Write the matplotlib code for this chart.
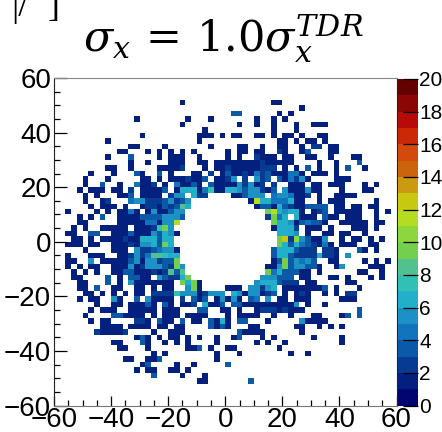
import numpy as np
import matplotlib
matplotlib.use('Agg')
import matplotlib.pyplot as plt
from matplotlib.colors import ListedColormap, BoundaryNorm

W, H = 442, 432

# counts per bin, one dict per row of the histogram (row 0 is the top, key is the x bin from the left)
r04 = {22: 1, 38: 1, 39: 1}
r05 = {43: 1}
r06 = {31: 3, 32: 3, 39: 1, 41: 1}
r07 = {14: 1, 23: 1, 27: 1, 35: 1, 38: 1, 40: 1}
r08 = {22: 1, 32: 1, 35: 1, 38: 1, 42: 1, 45: 1, 46: 1, 47: 1}
r09 = {26: 1, 38: 1, 42: 1}
r10 = {15: 1, 25: 1, 26: 1, 27: 1, 29: 1, 31: 1, 32: 1, 35: 1, 36: 1, 38: 1, 40: 1, 41: 1, 43: 1, 46: 1, 47: 1}
r11 = {9: 1, 25: 1, 39: 1, 40: 1, 42: 1, 44: 1, 45: 1, 47: 1}
r12 = {13: 1, 14: 1, 19: 1, 27: 1, 32: 1, 33: 1, 36: 1, 39: 1, 40: 1, 43: 1, 45: 2, 46: 2, 48: 1, 49: 1}
r13 = {11: 1, 12: 1, 16: 1, 18: 1, 20: 1, 22: 1, 24: 1, 30: 1, 32: 1, 33: 1, 35: 1, 36: 1, 39: 2, 40: 1, 43: 1, 44: 3, 48: 1, 49: 1}
r14 = {9: 1, 13: 3, 18: 1, 20: 1, 21: 1, 22: 1, 25: 1, 30: 1, 32: 1, 35: 2, 36: 1, 37: 1, 38: 1, 40: 1, 41: 1, 44: 1, 45: 1, 48: 1, 52: 1, 53: 1}
r15 = {13: 1, 16: 1, 20: 1, 21: 1, 22: 1, 25: 1, 26: 1, 28: 1, 29: 1, 30: 1, 31: 1, 32: 1, 33: 1, 34: 1, 35: 1, 36: 2, 37: 1, 38: 1, 39: 1, 40: 1, 41: 1, 46: 1, 49: 1, 53: 3}
r16 = {9: 1, 10: 1, 13: 1, 18: 1, 19: 1, 20: 1, 21: 1, 22: 2, 26: 1, 28: 1, 29: 1, 30: 2, 31: 1, 32: 1, 33: 1, 34: 1, 35: 1, 36: 2, 37: 2, 38: 2, 40: 1, 42: 1, 44: 3, 46: 1, 49: 1, 51: 3, 54: 1}
r17 = {6: 1, 10: 1, 14: 3, 15: 1, 18: 3, 20: 1, 24: 1, 25: 1, 27: 2, 29: 1, 30: 3, 31: 1, 32: 1, 33: 2, 34: 1, 35: 4, 36: 2, 37: 3, 38: 1, 39: 1, 40: 1, 41: 4, 42: 4, 43: 1, 45: 1, 46: 1, 47: 1, 49: 1}
r18 = {5: 1, 9: 1, 15: 1, 16: 1, 18: 1, 20: 1, 21: 1, 22: 1, 23: 2, 24: 1, 25: 1, 26: 3, 28: 1, 29: 1, 30: 2, 31: 5, 33: 2, 35: 5, 36: 2, 37: 3, 39: 3, 40: 1, 41: 4, 42: 2, 43: 5, 44: 1, 49: 1, 50: 1, 51: 1}
r19 = {5: 1, 8: 3, 11: 1, 14: 4, 15: 1, 16: 1, 17: 2, 19: 1, 21: 4, 22: 1, 23: 1, 24: 3, 25: 1, 27: 3, 28: 1, 29: 1, 30: 1, 31: 1, 32: 5, 33: 2, 34: 5, 35: 1, 36: 2, 38: 2, 41: 1, 42: 1, 43: 1, 45: 1, 46: 1, 48: 1, 49: 1, 50: 1, 54: 1, 56: 1}
r20 = {4: 1, 6: 1, 7: 1, 8: 1, 10: 1, 11: 1, 13: 2, 15: 1, 16: 1, 17: 1, 18: 1, 19: 3, 21: 1, 22: 6, 23: 6, 24: 6, 25: 1, 26: 4, 27: 7, 28: 1, 29: 1, 30: 6, 31: 6, 32: 5, 33: 3, 34: 5, 35: 5, 36: 2, 37: 1, 38: 3, 40: 5, 41: 1, 42: 1, 43: 1, 44: 5, 45: 1, 46: 1, 50: 1, 54: 1, 55: 1}
r21 = {5: 1, 7: 1, 11: 1, 12: 1, 13: 3, 15: 1, 16: 1, 17: 1, 18: 1, 20: 2, 21: 5, 22: 5, 24: 6, 25: 2, 26: 2, 31: 1, 32: 1, 33: 3, 34: 5, 35: 5, 36: 5, 38: 4, 39: 5, 40: 5, 41: 4, 42: 1, 43: 1, 44: 2, 46: 1, 49: 1, 50: 1, 51: 1, 52: 1}
r22 = {5: 1, 8: 1, 9: 2, 13: 4, 14: 5, 15: 5, 16: 2, 17: 2, 18: 2, 19: 3, 20: 5, 21: 2, 22: 3, 23: 5, 34: 1, 35: 11, 36: 6, 37: 6, 38: 4, 39: 4, 40: 4, 41: 6, 42: 1, 43: 1, 46: 1, 48: 1, 49: 1, 50: 1, 56: 1}
r23 = {6: 1, 8: 1, 9: 1, 10: 1, 12: 1, 15: 1, 16: 2, 17: 2, 18: 1, 19: 3, 20: 2, 21: 3, 22: 8, 23: 6, 35: 1, 36: 3, 37: 3, 38: 1, 39: 6, 40: 3, 41: 2, 42: 1, 43: 1, 44: 3, 45: 3, 46: 3, 47: 3, 49: 1, 50: 1, 52: 1, 53: 1, 55: 1, 56: 1}
r24 = {2: 1, 7: 1, 9: 1, 11: 1, 12: 1, 13: 4, 14: 1, 16: 1, 17: 5, 18: 1, 19: 1, 20: 3, 21: 5, 22: 5, 37: 9, 38: 11, 39: 6, 40: 5, 41: 6, 42: 6, 43: 1, 45: 1, 46: 2, 47: 3, 49: 1, 50: 1, 51: 1, 52: 1, 53: 1, 56: 1, 58: 1}
r25 = {4: 1, 6: 1, 8: 3, 11: 1, 12: 1, 13: 1, 14: 1, 15: 3, 16: 3, 17: 3, 18: 3, 19: 5, 20: 5, 21: 5, 22: 3, 37: 2, 38: 9, 39: 4, 40: 6, 42: 6, 43: 1, 44: 1, 45: 1, 47: 3, 48: 1, 49: 1, 51: 1, 52: 1, 53: 1, 56: 1}
r26 = {4: 1, 5: 1, 11: 1, 12: 1, 13: 1, 14: 1, 15: 1, 16: 4, 17: 4, 18: 1, 19: 5, 20: 5, 21: 11, 38: 9, 39: 6, 40: 6, 41: 5, 42: 1, 43: 3, 44: 4, 45: 3, 46: 3, 47: 1, 50: 1, 51: 1, 52: 1, 53: 1, 54: 1, 56: 1, 57: 1}
r27 = {3: 1, 5: 1, 8: 1, 9: 1, 10: 1, 11: 1, 12: 1, 14: 1, 15: 1, 16: 1, 17: 2, 18: 7, 19: 9, 20: 5, 38: 1, 39: 6, 40: 6, 41: 6, 42: 2, 44: 1, 45: 1, 46: 1, 48: 1, 52: 1, 53: 1, 54: 1, 56: 1}
r28 = {2: 1, 3: 1, 6: 3, 7: 3, 10: 1, 11: 1, 12: 1, 13: 3, 14: 1, 15: 1, 16: 1, 17: 5, 18: 3, 19: 6, 20: 5, 21: 1, 39: 6, 40: 6, 41: 6, 42: 5, 44: 1, 47: 1, 48: 1, 50: 1, 51: 1, 54: 1}
r29 = {3: 1, 4: 1, 6: 1, 8: 1, 9: 1, 10: 1, 11: 1, 12: 2, 13: 1, 14: 1, 15: 6, 16: 6, 17: 6, 18: 3, 19: 6, 20: 6, 39: 9, 40: 12, 41: 2, 42: 10, 43: 5, 44: 3, 45: 1, 46: 1, 47: 5, 50: 1, 52: 1, 53: 1, 55: 1, 57: 1}
r30 = {2: 1, 3: 1, 4: 1, 6: 1, 7: 1, 10: 1, 11: 1, 12: 1, 13: 2, 14: 1, 15: 5, 16: 5, 17: 6, 18: 3, 19: 9, 20: 6, 39: 9, 40: 6, 41: 3, 42: 6, 43: 4, 44: 3, 45: 2, 46: 1, 47: 4, 48: 1, 50: 1, 51: 1, 52: 1, 55: 1, 56: 1}
r31 = {5: 1, 10: 1, 11: 1, 12: 1, 14: 5, 15: 2, 16: 2, 17: 3, 18: 4, 19: 5, 20: 5, 21: 1, 38: 3, 39: 6, 40: 6, 41: 6, 42: 3, 43: 2, 44: 2, 45: 2, 47: 2, 48: 2, 49: 1, 53: 3, 54: 1, 56: 1}
r32 = {2: 1, 6: 1, 7: 1, 8: 1, 11: 1, 12: 1, 13: 2, 14: 5, 15: 2, 16: 4, 17: 8, 18: 8, 19: 7, 20: 6, 21: 6, 38: 3, 39: 6, 40: 6, 41: 3, 42: 2, 43: 2, 44: 2, 45: 2, 46: 6, 47: 2, 48: 2, 49: 1, 51: 5}
r33 = {2: 1, 3: 1, 6: 5, 8: 1, 9: 1, 10: 1, 11: 1, 12: 1, 13: 3, 14: 5, 15: 1, 16: 5, 17: 5, 18: 2, 19: 3, 20: 3, 21: 9, 38: 1, 39: 3, 40: 9, 41: 3, 42: 5, 43: 4, 44: 5, 45: 3, 48: 1, 49: 1, 54: 1, 56: 1, 58: 1}
r34 = {2: 1, 4: 1, 6: 1, 7: 1, 10: 1, 11: 1, 12: 1, 13: 5, 14: 1, 15: 2, 16: 5, 17: 5, 18: 5, 19: 3, 20: 2, 21: 9, 22: 5, 37: 1, 38: 1, 39: 5, 40: 9, 41: 3, 42: 5, 43: 5, 44: 3, 45: 3, 46: 1, 49: 1, 50: 5, 55: 1, 56: 1, 57: 1}
r35 = {3: 1, 5: 1, 7: 1, 10: 1, 11: 1, 12: 3, 13: 3, 14: 1, 15: 1, 16: 1, 17: 2, 18: 1, 19: 2, 20: 8, 21: 3, 22: 8, 37: 9, 38: 4, 39: 6, 40: 3, 41: 3, 42: 3, 43: 1, 44: 1, 46: 1, 53: 1, 54: 1, 57: 1}
r36 = {3: 1, 4: 1, 9: 3, 11: 1, 13: 3, 14: 3, 15: 1, 16: 1, 18: 5, 19: 3, 20: 2, 21: 2, 22: 6, 23: 9, 36: 5, 37: 5, 38: 5, 39: 3, 40: 3, 41: 3, 43: 1, 44: 1, 48: 1, 49: 1, 51: 1, 55: 1, 57: 1}
r37 = {4: 1, 5: 1, 9: 3, 11: 1, 13: 5, 14: 1, 15: 1, 16: 1, 17: 1, 18: 1, 19: 1, 20: 1, 22: 9, 23: 6, 24: 9, 25: 1, 35: 5, 36: 6, 37: 6, 38: 6, 39: 3, 40: 2, 41: 2, 42: 2, 44: 1, 45: 1, 51: 1, 52: 1}
r38 = {4: 1, 5: 1, 7: 3, 10: 1, 11: 1, 14: 1, 15: 1, 17: 1, 19: 1, 20: 1, 23: 5, 24: 9, 25: 1, 30: 1, 31: 1, 32: 1, 34: 5, 35: 5, 36: 2, 37: 5, 38: 6, 40: 1, 41: 1, 42: 1, 43: 1, 44: 1, 45: 1, 46: 1, 47: 3, 49: 1, 53: 1}
r39 = {5: 1, 6: 1, 8: 1, 10: 1, 12: 1, 14: 1, 15: 1, 17: 2, 18: 2, 19: 2, 20: 2, 21: 7, 22: 5, 23: 5, 24: 5, 25: 1, 26: 2, 27: 5, 28: 5, 29: 5, 31: 6, 32: 5, 33: 1, 34: 5, 35: 5, 36: 1, 37: 2, 38: 3, 40: 1, 42: 1, 43: 2, 44: 1, 47: 1, 49: 1, 51: 2, 52: 2}
r40 = {4: 1, 6: 1, 7: 1, 10: 5, 11: 1, 14: 3, 16: 5, 17: 1, 18: 1, 19: 1, 20: 1, 22: 2, 24: 3, 25: 1, 26: 3, 28: 1, 29: 5, 30: 1, 31: 5, 32: 1, 34: 3, 35: 4, 37: 5, 39: 1, 40: 1, 42: 1, 43: 1, 44: 1, 50: 1, 51: 1, 52: 1}
r41 = {7: 1, 10: 1, 11: 1, 13: 1, 14: 1, 15: 1, 16: 3, 17: 1, 19: 3, 20: 1, 22: 1, 23: 1, 24: 2, 26: 6, 27: 1, 28: 1, 29: 3, 31: 3, 32: 3, 33: 1, 34: 1, 35: 1, 36: 1, 37: 1, 38: 1, 39: 1, 40: 1, 41: 1, 42: 5, 44: 1, 47: 1}
r42 = {6: 1, 8: 1, 9: 1, 10: 1, 13: 1, 14: 1, 15: 1, 16: 1, 17: 1, 19: 1, 20: 1, 21: 1, 25: 3, 26: 3, 29: 1, 30: 1, 32: 1, 35: 1, 36: 2, 37: 2, 38: 2, 39: 1, 40: 2, 41: 1, 42: 1, 43: 1, 53: 3}
r43 = {5: 1, 10: 3, 11: 3, 12: 1, 13: 1, 14: 1, 15: 1, 17: 1, 19: 1, 20: 1, 21: 1, 23: 1, 24: 1, 25: 1, 26: 1, 30: 1, 32: 1, 33: 1, 34: 1, 35: 1, 38: 1, 41: 1, 45: 1, 46: 1, 50: 1, 51: 3, 53: 3}
r44 = {6: 1, 8: 1, 9: 1, 14: 2, 15: 2, 16: 1, 18: 3, 19: 1, 20: 1, 22: 3, 24: 1, 25: 1, 27: 3, 28: 1, 29: 6, 30: 1, 32: 3, 33: 3, 37: 1, 43: 5, 44: 1, 45: 1, 46: 1, 47: 1}
r45 = {8: 1, 9: 1, 10: 1, 11: 1, 13: 1, 14: 1, 15: 1, 16: 1, 18: 1, 19: 1, 21: 1, 22: 1, 27: 3, 28: 1, 29: 3, 30: 1, 34: 1, 35: 1, 42: 1, 43: 1, 46: 1, 48: 1, 50: 1}
r46 = {7: 2, 8: 1, 9: 1, 10: 1, 11: 1, 12: 2, 17: 1, 20: 1, 21: 1, 22: 1, 32: 3, 33: 1, 34: 1, 35: 1, 36: 1, 43: 1}
r47 = {14: 1, 15: 3, 16: 1, 18: 1, 20: 1, 21: 1, 23: 1, 25: 1, 28: 1, 31: 1, 32: 3, 36: 1, 38: 1, 45: 1, 50: 1}
r48 = {10: 1, 11: 1, 15: 3, 16: 1, 19: 1, 21: 1, 23: 1, 28: 1, 35: 1, 37: 1, 40: 1, 50: 1}
r49 = {11: 1, 12: 1, 16: 1, 23: 1, 24: 1, 25: 3, 27: 1, 30: 1, 31: 1, 39: 1}
r50 = {17: 1, 19: 1, 28: 1, 32: 1, 41: 1, 44: 1}
r51 = {12: 1, 13: 1, 16: 1, 17: 1, 18: 3, 28: 1}
r52 = {15: 1, 16: 3, 21: 1, 24: 1, 30: 3}
r53 = {14: 1, 16: 1, 17: 1, 20: 1, 21: 1, 23: 1}
r54 = {17: 3, 22: 1, 26: 1}
r55 = {25: 1, 26: 1, 34: 3}

hist_rows = {4: r04, 5: r05, 6: r06, 7: r07, 8: r08, 9: r09, 10: r10, 11: r11, 12: r12, 13: r13, 14: r14,
             15: r15, 16: r16, 17: r17, 18: r18, 19: r19, 20: r20, 21: r21, 22: r22, 23: r23, 24: r24,
             25: r25, 26: r26, 27: r27, 28: r28, 29: r29, 30: r30, 31: r31, 32: r32, 33: r33, 34: r34,
             35: r35, 36: r36, 37: r37, 38: r38, 39: r39, 40: r40, 41: r41, 42: r42, 43: r43, 44: r44,
             45: r45, 46: r46, 47: r47, 48: r48, 49: r49, 50: r50, 51: r51, 52: r52, 53: r53, 54: r54, 55: r55}

# colz palette, one colour per unit from 0 to 20
palette = ['#010570', '#03207f', '#073b92', '#0b5aa8', '#1274bd', '#1b91c4', '#22afc9', '#32c0b6',
           '#52c192', '#74cf4f', '#8cd63e', '#b5dc21', '#c8c811', '#cc9a10', '#cc640e', '#d24a0e',
           '#cc2808', '#b80a08', '#8c0606', '#640000']
axis_ticks = [-60, -40, -20, 0, 20, 40, 60]
cbar_ticks = list(range(0, 21, 2))

edges = np.arange(-60, 61, 2)
counts = np.full((60, 60), np.nan)
for row, bins in hist_rows.items():
    for col, n in bins.items():
        counts[59 - row, col] = n

cmap = ListedColormap(palette)
norm = BoundaryNorm(np.arange(0, 21), cmap.N)

plt.rcParams['font.family'] = ['Liberation Sans', 'DejaVu Sans']
plt.rcParams['mathtext.fontset'] = 'dejavuserif'

fig = plt.figure(figsize=(W / 100, H / 100), dpi=100)
ax = fig.add_axes([54 / W, 1 - 405.5 / H, 342.5 / W, 327.5 / H])
mesh = ax.pcolormesh(edges, edges, counts, cmap=cmap, norm=norm, linewidth=0)
ax.set_xlim(-60, 60)
ax.set_ylim(-60, 60)
ax.set_xticks(axis_ticks)
ax.set_yticks(axis_ticks)
ax.set_xticks(np.arange(-60, 61, 5), minor=True)
ax.set_yticks(np.arange(-60, 61, 5), minor=True)
ax.set_xticklabels([str(t).replace('-', '\u2212') for t in axis_ticks])
ax.set_yticklabels([str(t).replace('-', '\u2212') for t in axis_ticks])
ax.tick_params(axis='x', which='major', direction='in', length=7, width=0.9, labelsize=20, pad=1)
ax.tick_params(axis='x', which='minor', direction='in', length=4, width=0.9)
ax.tick_params(axis='y', which='major', direction='in', length=9.5, width=0.9, labelsize=20, pad=2)
ax.tick_params(axis='y', which='minor', direction='in', length=4.5, width=0.9)
ax.spines['top'].set_color('#888888')
ax.spines['bottom'].set_color('#777777')
ax.spines['left'].set_color('#222222')
ax.spines['right'].set_color('#222222')

cax = fig.add_axes([398 / W, 1 - 405.5 / H, 20 / W, 326.5 / H])
cb = fig.colorbar(mesh, cax=cax, ticks=cbar_ticks, spacing='proportional', drawedges=False)
cb.outline.set_visible(False)
cax.set_yticklabels([str(t) for t in cbar_ticks])
cax.tick_params(axis='y', which='major', direction='in', length=11, width=0.9, labelsize=15, pad=1)
cax.minorticks_off()

fig.text(223 / W, 1 - 52 / H, r'$\sigma_{x}\,=\,1.0\sigma_{x}^{TDR}$', fontsize=31, ha='center', va='baseline', color='black')
fig.text(11 / W, 1 - 16 / H, '|/', fontsize=26, ha='left', va='baseline', family='Liberation Serif')
fig.text(48 / W, 1 - 16 / H, ']', fontsize=26, ha='left', va='baseline', family='Liberation Serif')

fig.savefig('out.png', dpi=100)
